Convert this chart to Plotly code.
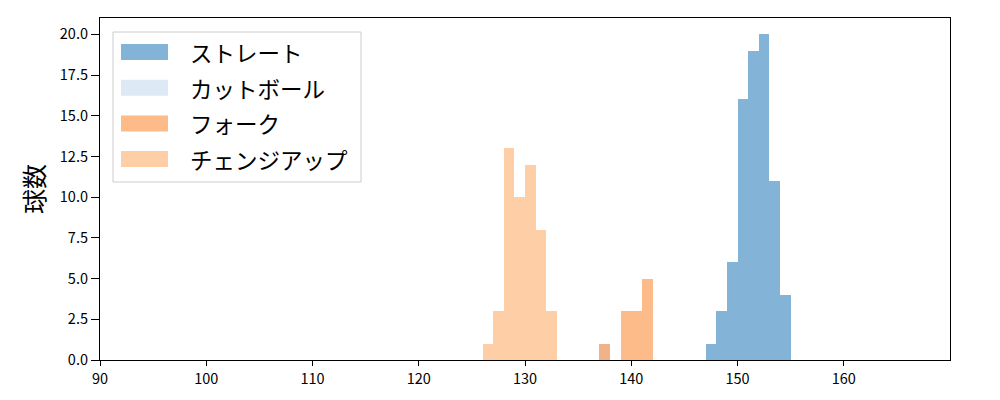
import plotly.graph_objects as go

# bin starts (width 1) and counts
straight_bins = [147, 148, 149, 150, 151, 152, 153, 154]
straight_counts = [1, 3, 6, 16, 19, 20, 11, 4]

cut_bins = [137]
cut_counts = [1]

fork_bins = [137, 139, 140, 141]
fork_counts = [1, 3, 3, 5]

change_bins = [126, 127, 128, 129, 130, 131, 132]
change_counts = [1, 3, 13, 10, 12, 8, 3]

x_ticks = [90, 100, 110, 120, 130, 140, 150, 160]

names = ["ストレート", "カットボール", "フォーク", "チェンジアップ"]
colors = ["rgba(49,130,189,0.6)", "rgba(198,219,239,0.6)",
          "rgba(253,141,60,0.6)", "rgba(253,174,107,0.6)"]
series = [(straight_bins, straight_counts), (cut_bins, cut_counts),
          (fork_bins, fork_counts), (change_bins, change_counts)]

JP = "Noto Sans CJK JP"

# page has 8px body margin; compensate
OFF = 8
PL, PR, PT, PB = 100, 950, 18, 360  # target plot-area pixel box in screenshot

fig = go.Figure()
for (b, c), n, col in zip(series, names, colors):
    fig.add_trace(go.Bar(x=b, y=c, width=[1] * len(b), offset=0, name=n,
                         marker=dict(color=col, line=dict(width=0)),
                         showlegend=False))

W = PR - PL
H = PB - PT


def px(x):
    return (x - PL) / W


def py(y):
    return 1 - (y - PT) / H


# manual legend (matplotlib-style)
fig.add_shape(type="rect", xref="paper", yref="paper",
              x0=px(113), x1=px(361), y0=py(182), y1=py(32),
              line=dict(color="#cccccc", width=1), fillcolor="rgba(255,255,255,0.8)",
              layer="above")
for i, (n, col) in enumerate(zip(names, colors)):
    yc = 52 + i * 35.7
    fig.add_shape(type="rect", xref="paper", yref="paper",
                  x0=px(121), x1=px(168), y0=py(yc + 8), y1=py(yc - 8),
                  line=dict(width=0), fillcolor=col, layer="above")
    fig.add_annotation(xref="paper", yref="paper", x=px(188),
                       y=py(yc), text=n, showarrow=False,
                       xanchor="left", yanchor="middle",
                       font=dict(family=JP, size=22.5, color="black"))

fig.update_layout(
    width=1000, height=400,
    margin=dict(l=PL - OFF, r=1000 - PR + OFF, t=PT - OFF, b=400 - PB + OFF),
    paper_bgcolor="white", plot_bgcolor="white",
    barmode="overlay", bargap=0,
    font=dict(family=JP, color="black", size=14),
)
fig.update_xaxes(range=[90, 170], tickvals=x_ticks, showgrid=False, zeroline=False,
                 showline=True, mirror=True, linecolor="black", linewidth=1.2,
                 ticks="outside", ticklen=5, tickwidth=1.2, tickcolor="black",
                 tickfont=dict(family=JP, size=14.5))
fig.update_yaxes(range=[0, 21], dtick=2.5, tick0=0, tickformat=".1f", showgrid=False,
                 zeroline=False, showline=True, mirror=True, linecolor="black",
                 linewidth=1.2, ticks="outside", ticklen=8, tickwidth=1.2,
                 tickcolor="black", tickfont=dict(family=JP, size=14.5),
                 title=dict(text="球数", font=dict(family=JP, size=25), standoff=8))

fig.write_html("out.html")
